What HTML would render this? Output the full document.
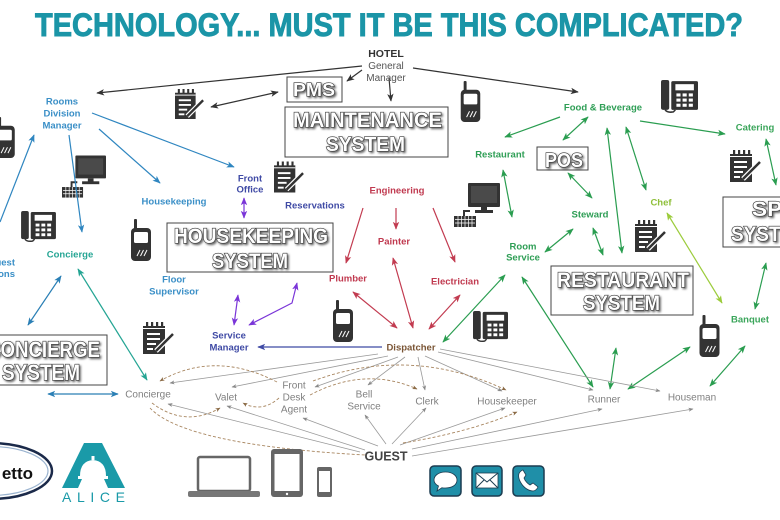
<!DOCTYPE html>
<html><head><meta charset="utf-8"><style>
html,body{margin:0;padding:0;background:#fff;}
svg{display:block;}
text{font-family:"Liberation Sans",sans-serif;}
.lb{font-size:9.5px;font-weight:bold;text-anchor:middle;}
.gy{font-size:10px;fill:#808080;text-anchor:middle;}
.bx{font-family:"Liberation Sans Narrow","Liberation Sans",sans-serif;font-weight:bold;fill:#fff;stroke:#3a3a3a;stroke-width:1.3px;paint-order:stroke;filter:url(#sh);}
</style></head><body>
<svg width="780" height="520" viewBox="0 0 780 520" xmlns="http://www.w3.org/2000/svg">
<defs>
<filter id="sh" x="-10%" y="-30%" width="125%" height="180%"><feDropShadow dx="1.5" dy="1.5" stdDeviation="1" flood-color="#000" flood-opacity="0.6"/></filter>
<marker id="mK" viewBox="0 0 10 10" refX="9" refY="5" markerWidth="8" markerHeight="8" markerUnits="userSpaceOnUse" orient="auto-start-reverse"><path d="M0,1 L10,5 L0,9 L2.5,5z" fill="#333"/></marker>
<marker id="mB" viewBox="0 0 10 10" refX="9" refY="5" markerWidth="8" markerHeight="8" markerUnits="userSpaceOnUse" orient="auto-start-reverse"><path d="M0,1 L10,5 L0,9 L2.5,5z" fill="#2f86c0"/></marker>
<marker id="mC" viewBox="0 0 10 10" refX="9" refY="5" markerWidth="8" markerHeight="8" markerUnits="userSpaceOnUse" orient="auto-start-reverse"><path d="M0,1 L10,5 L0,9 L2.5,5z" fill="#2a7fb5"/></marker>
<marker id="mP" viewBox="0 0 10 10" refX="9" refY="5" markerWidth="8" markerHeight="8" markerUnits="userSpaceOnUse" orient="auto-start-reverse"><path d="M0,1 L10,5 L0,9 L2.5,5z" fill="#7a35d8"/></marker>
<marker id="mN" viewBox="0 0 10 10" refX="9" refY="5" markerWidth="8" markerHeight="8" markerUnits="userSpaceOnUse" orient="auto-start-reverse"><path d="M0,1 L10,5 L0,9 L2.5,5z" fill="#3f4aa5"/></marker>
<marker id="mT" viewBox="0 0 10 10" refX="9" refY="5" markerWidth="8" markerHeight="8" markerUnits="userSpaceOnUse" orient="auto-start-reverse"><path d="M0,1 L10,5 L0,9 L2.5,5z" fill="#25a594"/></marker>
<marker id="mR" viewBox="0 0 10 10" refX="9" refY="5" markerWidth="8" markerHeight="8" markerUnits="userSpaceOnUse" orient="auto-start-reverse"><path d="M0,1 L10,5 L0,9 L2.5,5z" fill="#c23b50"/></marker>
<marker id="mG" viewBox="0 0 10 10" refX="9" refY="5" markerWidth="8" markerHeight="8" markerUnits="userSpaceOnUse" orient="auto-start-reverse"><path d="M0,1 L10,5 L0,9 L2.5,5z" fill="#2a9d50"/></marker>
<marker id="mY" viewBox="0 0 10 10" refX="9" refY="5" markerWidth="8" markerHeight="8" markerUnits="userSpaceOnUse" orient="auto-start-reverse"><path d="M0,1 L10,5 L0,9 L2.5,5z" fill="#9ccc3c"/></marker>
<marker id="mA" viewBox="0 0 10 10" refX="9" refY="5" markerWidth="5" markerHeight="5" markerUnits="userSpaceOnUse" orient="auto-start-reverse"><path d="M0,1 L10,5 L0,9 L2.5,5z" fill="#888"/></marker>
<marker id="mD" viewBox="0 0 10 10" refX="9" refY="5" markerWidth="5" markerHeight="5" markerUnits="userSpaceOnUse" orient="auto-start-reverse"><path d="M0,1 L10,5 L0,9 L2.5,5z" fill="#8a6a45"/></marker>

<symbol id="wt" viewBox="0 0 20 42">
 <rect x="3" y="0" width="3" height="12" rx="1" fill="#333"/>
 <rect x="0" y="9" width="20" height="33" rx="4" fill="#333"/>
 <rect x="3" y="13" width="14" height="11" rx="1.5" fill="#fff"/>
 <path d="M6,37 L9,31 M9.5,37 L12.5,31 M13,37 L16,31" stroke="#fff" stroke-width="1"/>
</symbol>
<symbol id="np" viewBox="0 0 32 32">
 <rect x="0" y="4" width="22" height="28" fill="#333"/>
 <rect x="3" y="0" width="2.2" height="7" fill="#333"/>
 <rect x="8" y="0" width="2.2" height="7" fill="#333"/>
 <rect x="13" y="0" width="2.2" height="7" fill="#333"/>
 <rect x="18" y="0" width="2.2" height="7" fill="#333"/>
 <rect x="0" y="6" width="22" height="1" fill="#fff"/>
 <rect x="4" y="11" width="13" height="2" fill="#fff"/>
 <rect x="4" y="16" width="13" height="2" fill="#fff"/>
 <rect x="4" y="21" width="9" height="2" fill="#fff"/>
 <rect x="4" y="26" width="6" height="2" fill="#fff"/>
 <path d="M13,29 L30,12" stroke="#fff" stroke-width="5"/>
 <path d="M13,29 L30,12" stroke="#333" stroke-width="2.5"/>
</symbol>
<symbol id="ph" viewBox="0 0 36 32">
 <rect x="0" y="0" width="8" height="29" rx="2" fill="#333"/>
 <rect x="10" y="1" width="26" height="28" rx="1.5" fill="#333"/>
 <rect x="14" y="4" width="18" height="6" fill="#fff"/>
 <g fill="#fff">
  <rect x="15" y="13" width="4" height="3"/><rect x="21" y="13" width="4" height="3"/><rect x="27" y="13" width="4" height="3"/>
  <rect x="15" y="18" width="4" height="3"/><rect x="21" y="18" width="4" height="3"/><rect x="27" y="18" width="4" height="3"/>
  <rect x="15" y="23" width="4" height="3"/><rect x="21" y="23" width="4" height="3"/><rect x="27" y="23" width="4" height="3"/>
 </g>
 <path d="M4,29 Q6,32 12,31 L14,29" stroke="#333" stroke-width="1.5" fill="none"/>
</symbol>
<symbol id="pc" viewBox="0 0 46 45">
 <rect x="14" y="0" width="32" height="24" rx="1" fill="#333"/>
 <rect x="17" y="3" width="26" height="17" fill="#4a4a4a"/>
 <rect x="27" y="24" width="6" height="4" fill="#333"/>
 <rect x="21" y="27" width="18" height="3" fill="#333"/>
 <path d="M10,33 V28 H16" stroke="#333" stroke-width="2" fill="none"/>
 <rect x="0" y="33" width="22" height="11" fill="#333"/>
 <path d="M1,36.5 H21 M1,40 H21 M4,33 V44 M7.5,33 V44 M11,33 V44 M14.5,33 V44 M18,33 V44" stroke="#fff" stroke-width="0.7"/>
</symbol>
</defs>

<!-- Title -->
<text x="35" y="36" font-family="'Liberation Sans Narrow','Liberation Sans',sans-serif" font-weight="bold" font-size="32" fill="#1b95a7" stroke="#1b95a7" stroke-width="0.9" textLength="708" lengthAdjust="spacingAndGlyphs">TECHNOLOGY... MUST IT BE THIS COMPLICATED?</text>

<!-- Boxes -->
<g fill="#fff" stroke="#444" stroke-width="1">
 <rect x="287" y="77" width="55" height="25"/>
 <rect x="285" y="107" width="163" height="50"/>
 <rect x="167" y="223" width="166" height="49"/>
 <rect x="-5" y="335" width="112" height="50"/>
 <rect x="537" y="147" width="51" height="23"/>
 <rect x="551" y="266" width="142" height="49"/>
 <rect x="723" y="197" width="80" height="50"/>
</g>
<text class="bx" x="293" y="96" font-size="18" textLength="42" lengthAdjust="spacingAndGlyphs">PMS</text>
<text class="bx" x="293" y="127" font-size="21" textLength="149" lengthAdjust="spacingAndGlyphs">MAINTENANCE</text>
<text class="bx" x="326" y="151" font-size="20" textLength="79" lengthAdjust="spacingAndGlyphs">SYSTEM</text>
<text class="bx" x="174" y="243" font-size="21" textLength="154" lengthAdjust="spacingAndGlyphs">HOUSEKEEPING</text>
<text class="bx" x="212" y="268" font-size="21" textLength="76" lengthAdjust="spacingAndGlyphs">SYSTEM</text>
<text class="bx" x="-13" y="357" font-size="22" textLength="113" lengthAdjust="spacingAndGlyphs">CONCIERGE</text>
<text class="bx" x="2" y="380" font-size="22" textLength="78" lengthAdjust="spacingAndGlyphs">SYSTEM</text>
<text class="bx" x="545" y="167" font-size="20" textLength="38" lengthAdjust="spacingAndGlyphs">POS</text>
<text class="bx" x="557" y="287" font-size="21" textLength="132" lengthAdjust="spacingAndGlyphs">RESTAURANT</text>
<text class="bx" x="583" y="310" font-size="21" textLength="77" lengthAdjust="spacingAndGlyphs">SYSTEM</text>
<text class="bx" x="752" y="216" font-size="21" textLength="45" lengthAdjust="spacingAndGlyphs">SPA</text>
<text class="bx" x="731" y="241" font-size="21" textLength="78" lengthAdjust="spacingAndGlyphs">SYSTEM</text>

<!-- Icons -->
<use href="#np" x="175" y="89" width="30" height="30"/>
<use href="#np" x="274" y="161" width="31" height="32"/>
<use href="#np" x="143" y="322" width="32" height="32"/>
<use href="#np" x="730" y="150" width="32" height="32"/>
<use href="#np" x="635" y="220" width="32" height="32"/>
<use href="#ph" x="21" y="211" width="35" height="31"/>
<use href="#ph" x="661" y="80" width="37" height="33"/>
<use href="#ph" x="473" y="310" width="35" height="33"/>
<use href="#wt" x="-5" y="117" width="20" height="41"/>
<use href="#wt" x="460" y="81" width="21" height="41"/>
<use href="#wt" x="131" y="219" width="20" height="42"/>
<use href="#wt" x="333" y="300" width="20" height="42"/>
<use href="#wt" x="699" y="315" width="21" height="42"/>
<use href="#pc" x="62" y="155" width="44" height="44"/>
<use href="#pc" x="454" y="183" width="46" height="45"/>

<!-- Black connectors -->
<g stroke="#333" stroke-width="1.2" fill="none">
 <line x1="362" y1="66" x2="97" y2="93" marker-end="url(#mK)"/>
 <line x1="413" y1="68" x2="578" y2="92" marker-end="url(#mK)"/>
 <line x1="362" y1="70" x2="347" y2="81" marker-end="url(#mK)"/>
 <line x1="389" y1="78" x2="391" y2="101" marker-end="url(#mK)"/>
 <line x1="211" y1="107" x2="278" y2="92" marker-start="url(#mK)" marker-end="url(#mK)"/>
</g>
<!-- Blue -->
<g stroke="#2f86c0" stroke-width="1.2" fill="none">
 <line x1="92" y1="113" x2="234" y2="167" marker-end="url(#mB)"/>
 <line x1="99" y1="129" x2="160" y2="183" marker-end="url(#mB)"/>
 <line x1="69" y1="135" x2="82" y2="232" marker-end="url(#mB)"/>
 <line x1="0" y1="222" x2="34" y2="135" marker-end="url(#mB)"/>
</g>
<g stroke="#2a7fb5" stroke-width="1.2" fill="none">
 <line x1="61" y1="276" x2="28" y2="325" marker-start="url(#mC)" marker-end="url(#mC)"/>
 <line x1="48" y1="394" x2="118" y2="394" marker-start="url(#mC)" marker-end="url(#mC)"/>
</g>
<line x1="78" y1="269" x2="147" y2="380" stroke="#25a594" stroke-width="1.2" marker-start="url(#mT)" marker-end="url(#mT)"/>
<!-- Purple -->
<g stroke="#7a35d8" stroke-width="1.2" fill="none">
 <line x1="244" y1="198" x2="244" y2="218" marker-start="url(#mP)" marker-end="url(#mP)"/>
 <line x1="238" y1="295" x2="234" y2="325" marker-start="url(#mP)" marker-end="url(#mP)"/>
 <polyline points="249,325 292,303 297,283" marker-start="url(#mP)" marker-end="url(#mP)"/>
</g>
<line x1="382" y1="347" x2="258" y2="347" stroke="#3f4aa5" stroke-width="1.2" marker-end="url(#mN)"/>
<!-- Red -->
<g stroke="#c23b50" stroke-width="1.2" fill="none">
 <line x1="363" y1="208" x2="346" y2="263" marker-end="url(#mR)"/>
 <line x1="396" y1="208" x2="396" y2="229" marker-end="url(#mR)"/>
 <line x1="433" y1="208" x2="455" y2="262" marker-end="url(#mR)"/>
 <line x1="353" y1="292" x2="397" y2="328" marker-start="url(#mR)" marker-end="url(#mR)"/>
 <line x1="393" y1="258" x2="413" y2="328" marker-start="url(#mR)" marker-end="url(#mR)"/>
 <line x1="460" y1="295" x2="429" y2="329" marker-start="url(#mR)" marker-end="url(#mR)"/>
</g>
<!-- Green -->
<g stroke="#2a9d50" stroke-width="1.2" fill="none">
 <line x1="443" y1="342" x2="505" y2="275" marker-start="url(#mG)" marker-end="url(#mG)"/>
 <line x1="560" y1="117" x2="505" y2="137" marker-end="url(#mG)"/>
 <line x1="588" y1="117" x2="563" y2="140" marker-start="url(#mG)" marker-end="url(#mG)"/>
 <line x1="607" y1="128" x2="622" y2="253" marker-start="url(#mG)" marker-end="url(#mG)"/>
 <line x1="626" y1="127" x2="646" y2="190" marker-start="url(#mG)" marker-end="url(#mG)"/>
 <line x1="640" y1="121" x2="725" y2="134" marker-end="url(#mG)"/>
 <line x1="766" y1="139" x2="776" y2="185" marker-start="url(#mG)" marker-end="url(#mG)"/>
 <line x1="503" y1="170" x2="512" y2="217" marker-start="url(#mG)" marker-end="url(#mG)"/>
 <line x1="568" y1="173" x2="592" y2="198" marker-start="url(#mG)" marker-end="url(#mG)"/>
 <line x1="545" y1="252" x2="573" y2="229" marker-start="url(#mG)" marker-end="url(#mG)"/>
 <line x1="593" y1="228" x2="603" y2="255" marker-start="url(#mG)" marker-end="url(#mG)"/>
 <line x1="766" y1="263" x2="755" y2="309" marker-start="url(#mG)" marker-end="url(#mG)"/>
 <line x1="522" y1="277" x2="593" y2="387" marker-start="url(#mG)" marker-end="url(#mG)"/>
 <line x1="616" y1="348" x2="610" y2="389" marker-start="url(#mG)" marker-end="url(#mG)"/>
 <line x1="628" y1="389" x2="690" y2="347" marker-start="url(#mG)" marker-end="url(#mG)"/>
 <line x1="710" y1="386" x2="745" y2="346" marker-start="url(#mG)" marker-end="url(#mG)"/>
</g>
<line x1="667" y1="213" x2="722" y2="303" stroke="#9ccc3c" stroke-width="1.2" marker-start="url(#mY)" marker-end="url(#mY)"/>

<!-- Gray fan lines -->
<g stroke="#999" stroke-width="0.8" fill="none">
 <line x1="378" y1="354" x2="170" y2="383" marker-end="url(#mA)"/>
 <line x1="388" y1="356" x2="232" y2="387" marker-end="url(#mA)"/>
 <line x1="398" y1="357" x2="315" y2="387" marker-end="url(#mA)"/>
 <line x1="405" y1="357" x2="368" y2="385" marker-end="url(#mA)"/>
 <line x1="418" y1="357" x2="425" y2="390" marker-end="url(#mA)"/>
 <line x1="425" y1="356" x2="502" y2="391" marker-end="url(#mA)"/>
 <line x1="438" y1="352" x2="593" y2="390" marker-end="url(#mA)"/>
 <line x1="440" y1="349" x2="660" y2="391" marker-end="url(#mA)"/>
 <line x1="360" y1="452" x2="168" y2="404" marker-end="url(#mA)"/>
 <line x1="365" y1="450" x2="227" y2="406" marker-end="url(#mA)"/>
 <line x1="378" y1="446" x2="303" y2="418" marker-end="url(#mA)"/>
 <line x1="386" y1="444" x2="365" y2="415" marker-end="url(#mA)"/>
 <line x1="392" y1="444" x2="426" y2="408" marker-end="url(#mA)"/>
 <line x1="400" y1="445" x2="505" y2="408" marker-end="url(#mA)"/>
 <line x1="412" y1="449" x2="602" y2="409" marker-end="url(#mA)"/>
 <line x1="412" y1="456" x2="693" y2="409" marker-end="url(#mA)"/>
</g>
<!-- Dashed curves -->
<g stroke="#a88660" stroke-width="0.9" stroke-dasharray="3,2" fill="none">
 <path d="M277,382 Q215,350 160,381" marker-end="url(#mD)"/>
 <path d="M279,398 Q262,413 243,403" marker-end="url(#mD)"/>
 <path d="M152,403 Q185,428 220,408" marker-end="url(#mD)"/>
 <path d="M150,408 Q185,445 365,455"/>
 <path d="M310,395 Q365,366 417,389" marker-end="url(#mD)"/>
 <path d="M313,381 Q410,345 506,390" marker-end="url(#mD)"/>
 <path d="M403,443 Q470,432 517,412" marker-end="url(#mD)"/>
</g>

<!-- Labels -->
<text x="386" y="57" font-size="10.5" font-weight="bold" fill="#333" text-anchor="middle">HOTEL</text>
<text x="386" y="69" font-size="10" fill="#555" text-anchor="middle">General</text>
<text x="386" y="81" font-size="10" fill="#555" text-anchor="middle">Manager</text>
<text x="62" y="104.5" class="lb" fill="#3a8fc7">Rooms</text>
<text x="62" y="116.5" class="lb" fill="#3a8fc7">Division</text>
<text x="62" y="128.5" class="lb" fill="#3a8fc7">Manager</text>
<text x="174" y="204.5" class="lb" fill="#3a8fc7">Housekeeping</text>
<text x="174" y="282.5" class="lb" fill="#3a8fc7">Floor</text>
<text x="174" y="294.5" class="lb" fill="#3a8fc7">Supervisor</text>
<text x="15" y="265.5" class="lb" fill="#3a8fc7" style="text-anchor:end">Guest</text>
<text x="15" y="277" class="lb" fill="#3a8fc7" style="text-anchor:end">Relations</text>
<text x="250" y="181.5" class="lb" fill="#3f4aa5">Front</text>
<text x="250" y="192.5" class="lb" fill="#3f4aa5">Office</text>
<text x="315" y="208.5" class="lb" fill="#3f4aa5">Reservations</text>
<text x="229" y="338.5" class="lb" fill="#3f4aa5">Service</text>
<text x="229" y="350.5" class="lb" fill="#3f4aa5">Manager</text>
<text x="70" y="257.5" class="lb" fill="#25a594">Concierge</text>
<text x="397" y="193.5" class="lb" fill="#c0394f">Engineering</text>
<text x="394" y="244.5" class="lb" fill="#c0394f">Painter</text>
<text x="348" y="281.5" class="lb" fill="#c0394f">Plumber</text>
<text x="455" y="284.5" class="lb" fill="#c0394f">Electrician</text>
<text x="411" y="350.5" class="lb" fill="#7a5535">Dispatcher</text>
<text x="603" y="110.5" class="lb" fill="#2e9e55">Food &amp; Beverage</text>
<text x="500" y="157.5" class="lb" fill="#2e9e55">Restaurant</text>
<text x="755" y="130.5" class="lb" fill="#3aa55a">Catering</text>
<text x="590" y="217.5" class="lb" fill="#2e9e55">Steward</text>
<text x="661" y="205.5" class="lb" fill="#8fbf3a">Chef</text>
<text x="523" y="249.5" class="lb" fill="#2e9e55">Room</text>
<text x="523" y="260.5" class="lb" fill="#2e9e55">Service</text>
<text x="750" y="322.5" class="lb" fill="#3aa55a">Banquet</text>

<text x="148" y="397.5" class="gy">Concierge</text>
<text x="226" y="400.5" class="gy">Valet</text>
<text x="294" y="388.5" class="gy">Front</text>
<text x="294" y="400.5" class="gy">Desk</text>
<text x="294" y="412.5" class="gy">Agent</text>
<text x="364" y="397.5" class="gy">Bell</text>
<text x="364" y="409.5" class="gy">Service</text>
<text x="427" y="404.5" class="gy">Clerk</text>
<text x="507" y="404.5" class="gy">Housekeeper</text>
<text x="604" y="402.5" class="gy">Runner</text>
<text x="692" y="400.5" class="gy">Houseman</text>
<text x="386" y="460.5" font-size="12.5" font-weight="bold" fill="#444" text-anchor="middle">GUEST</text>

<!-- Devices -->
<rect x="198" y="457" width="52" height="34" rx="2" fill="#fff" stroke="#666" stroke-width="2.5"/>
<rect x="188" y="491" width="72" height="6" rx="2" fill="#777"/>
<rect x="271" y="449" width="32" height="48" rx="3" fill="#666"/>
<rect x="274.5" y="454" width="25" height="37" fill="#fff"/>
<circle cx="287" cy="494" r="1.2" fill="#fff"/>
<rect x="317" y="467" width="15" height="30" rx="2" fill="#666"/>
<rect x="319" y="471" width="11" height="21" fill="#fff"/>

<!-- Teal buttons -->
<g stroke="#1c3c50" stroke-width="1.5" fill="#1f8fa8">
 <rect x="430" y="466" width="31" height="30" rx="4"/>
 <rect x="472" y="466" width="30" height="30" rx="4"/>
 <rect x="513" y="466" width="31" height="30" rx="4"/>
</g>
<path d="M445.5,472 C453,472 457,476 457,480 C457,485 452,488 445.5,488 C444,488 443,488 442,487.7 L437,491 L438.5,486 C435.5,484.5 434,482.5 434,480 C434,476 438,472 445.5,472 Z" fill="#fff" stroke="#1c3c50" stroke-width="0.8"/>
<rect x="476" y="473" width="22" height="15" fill="#fff" stroke="#1c3c50" stroke-width="0.8"/>
<path d="M476,473 L487,482 L498,473 M476,488 L484,480 M498,488 L490,480" stroke="#1c3c50" stroke-width="1" fill="none"/>
<path d="M520,472 C518,474 518,478 521,483 C524,488 529,491 533,491 C535,491 537,489 538,487 L533,483 L530,485 C528,484 525,481 524,478 L526,475 L523,470 C522,470 521,471 520,472 Z" fill="#fff" stroke="#1c3c50" stroke-width="0.8"/>

<!-- ALICE logo -->
<polygon points="62,488 84,443 102,443 125,488 108,488 104,479 82,479 78,488" fill="#1a9aa8"/>
<path d="M80,476 Q80,461 93,460 Q106,461 106,476 Z" fill="#fff"/>
<rect x="91.5" y="456" width="3" height="4" fill="#fff"/>
<rect x="78" y="476" width="30" height="3" fill="#fff"/>
<text x="62" y="502" font-size="14" fill="#1a9aa8" textLength="63" lengthAdjust="spacing">ALICE</text>

<!-- Ellipse logo -->
<ellipse cx="-10" cy="471" rx="62" ry="28" fill="#fff" stroke="#1b2a4a" stroke-width="2.5"/>
<ellipse cx="-10" cy="471" rx="58" ry="24.5" fill="none" stroke="#9ab3cf" stroke-width="1.2"/>
<text x="33" y="479" font-size="17" font-weight="bold" fill="#111" text-anchor="end">etto</text>
</svg>
</body></html>
